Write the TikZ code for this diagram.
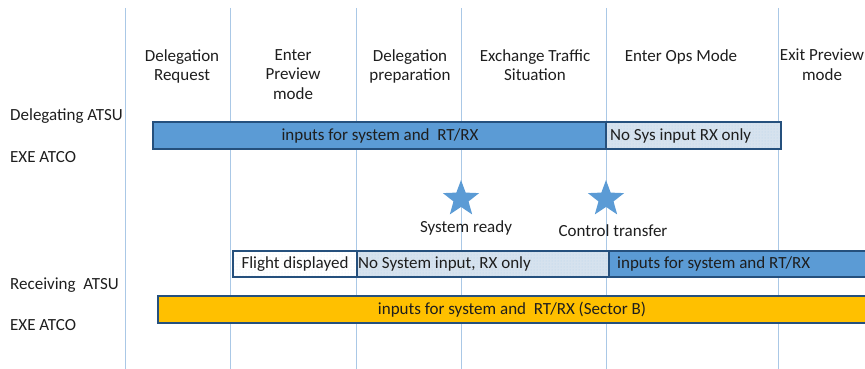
\documentclass[tikz,border=0pt]{standalone}
\usepackage{fontspec}
\setmainfont{Carlito}
\usetikzlibrary{shapes.geometric,patterns}
\definecolor{vline}{RGB}{170,200,230}
\definecolor{barblue}{RGB}{91,155,213}
\definecolor{bardark}{RGB}{37,80,125}
\definecolor{baryellow}{RGB}{255,192,0}
\definecolor{hatch}{RGB}{214,226,238}
\definecolor{txt}{RGB}{30,30,30}
\tikzset{
  phase/.style={align=center, font=\fontsize{17}{19.5}\selectfont, text=txt, anchor=north, inner sep=0pt},
  lbl/.style={anchor=west, font=\fontsize{17}{20}\selectfont, text=txt, inner sep=0pt},
  bar/.style={draw=bardark, line width=1.6pt, inner sep=0pt},
  bartext/.style={font=\fontsize{17}{20}\selectfont, text=txt},
  starmark/.style={star, star points=5, star point ratio=2.4, fill=barblue, draw=none, minimum size=38pt, inner sep=0pt},
  vl/.style={draw=vline, line width=0.8pt}
}
\begin{document}
\begin{tikzpicture}[x=1pt,y=-1pt]
\useasboundingbox (0,0) rectangle (865,369);
% vertical lines
\foreach \n/\x in {l1/125,l2/230,l3/356,l4/461,l5/606,l6/778}{
  \coordinate (\n t) at (\x,8);
  \coordinate (\n b) at (\x,369);
  \draw[vl] (\n t) -- (\n b);
}
% phase headers
\node[phase] (p1) at (182,49) {Delegation\\Request};
\node[phase] (p2) at (293,49) {Enter\\Preview\\mode};
\node[phase] (p3) at (410,49) {Delegation\\preparation};
\node[phase] (p4) at (535,49) {Exchange Traffic\\Situation};
\node[phase] (p5) at (681,49) {Enter Ops Mode};
\node[phase] (p6) at (822,49) {Exit Preview\\mode};
% left labels
\node[lbl] (d1) at (10,116) {Delegating ATSU};
\node[lbl] (d2) at (10,157) {EXE ATCO};
\node[lbl] (r1) at (10,285) {Receiving\ \ ATSU};
\node[lbl] (r2) at (10,325) {EXE ATCO};
% delegating bars
\filldraw[bar, fill=barblue] (153,122) rectangle (606,149);
\node[bartext] (t1) at (380,135.5) {inputs for system and\ \ RT/RX};
\filldraw[bar, fill=hatch] (606,122) rectangle (781,149);
\fill[pattern=dots, pattern color=barblue!45] (607,123) rectangle (780,148);
\draw[bar] (606,122) rectangle (781,149);
\node[bartext, anchor=west, inner sep=0pt] (t2) at (610,135.5) {No Sys input RX only};
% stars
\node[starmark] (s1) at (461,199) {};
\node[starmark] (s2) at (606,199) {};
\node[bartext] (s1l) at (466,228) {System ready};
\node[bartext] (s2l) at (613,231) {Control transfer};
% receiving bars
\filldraw[bar, fill=white] (233,251) rectangle (357,277);
\fill[pattern=dots, pattern color=barblue!20] (234,252) rectangle (356,276);
\draw[bar] (233,251) rectangle (357,277);
\node[bartext] (t3) at (295,264) {Flight displayed};
\filldraw[bar, fill=hatch] (357,251) rectangle (609,277);
\fill[pattern=dots, pattern color=barblue!45] (358,252) rectangle (608,276);
\draw[bar] (357,251) rectangle (609,277);
\node[bartext, anchor=west, inner sep=0pt] (t4) at (358,264) {No System input, RX only};
\filldraw[bar, fill=barblue] (609,251) rectangle (870,277);
\node[bartext, anchor=west, inner sep=0pt] (t5) at (617,264) {inputs for system and RT/RX};
\filldraw[bar, fill=baryellow] (158,296) rectangle (870,323);
\node[bartext] (t6) at (512,309.5) {inputs for system and\ \ RT/RX (Sector B)};
\end{tikzpicture}
\end{document}
